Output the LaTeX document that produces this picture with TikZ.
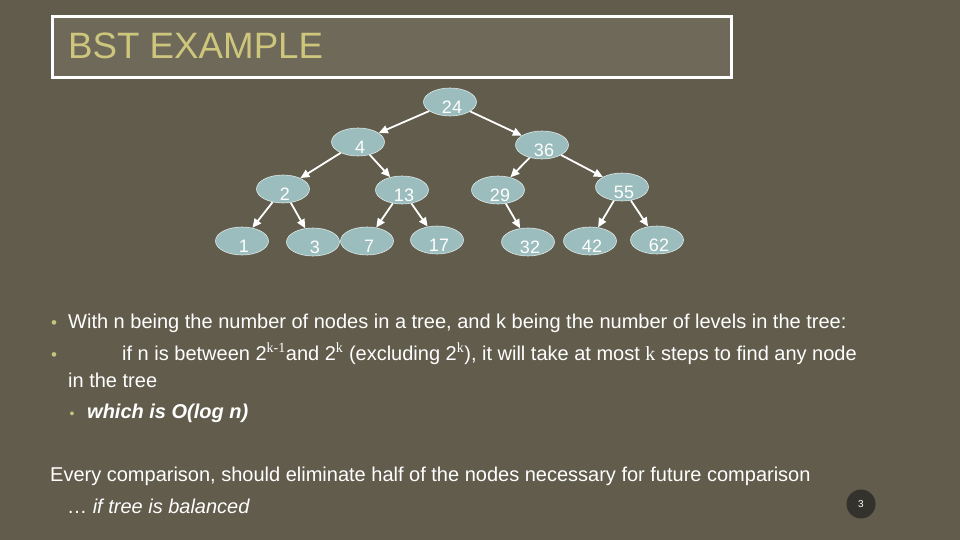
\documentclass[tikz,border=0pt]{standalone}
\usepackage{fontspec}
\setmainfont{Liberation Sans}
\newfontfamily\timesfont{Liberation Serif}
\usetikzlibrary{shapes.geometric, arrows.meta, positioning}
\definecolor{slidebg}{HTML}{615C4C}
\definecolor{titlebg}{HTML}{6E6959}
\definecolor{titletext}{HTML}{CDC67C}
\definecolor{nodefill}{HTML}{9CBDBD}
\definecolor{bulletyellow}{HTML}{C9C37E}
\definecolor{pagecircle}{HTML}{33322D}
\newcommand{\keytext}[1]{\hspace{4pt}\raisebox{-5pt}[13pt][0pt]{#1}}

\begin{document}
\begin{tikzpicture}[
        x=1pt, y=-1pt,
        treenode/.style={
            ellipse,
            fill=nodefill,
            draw=white!65!nodefill,
            line width=0.6pt,
            minimum width=53pt,
            minimum height=28pt,
            inner sep=0pt,
            text=white,
            font=\fontsize{18}{18}\selectfont
        },
        bodytext/.style={
            anchor=base west,
            inner sep=0pt,
            text=white,
            font=\fontsize{20}{24}\selectfont
        },
        bullet/.style={
            anchor=base,
            inner sep=0pt,
            text=bulletyellow,
            font=\fontsize{17}{17}\selectfont
        },
        arrow/.style={-{Triangle[length=9pt, width=8pt]}, line width=1.8pt, draw=white}
    ]

    \fill [slidebg] (0,0) rectangle (960,540);
    \useasboundingbox (0,0) rectangle (960,540);

    \draw [draw=white, line width=3pt, fill=titlebg] (52,17) rectangle (731,78);
    \node (title) [anchor=base west, inner sep=0pt, text=titletext,
        font=\fontsize{36.7}{37}\selectfont] at (68,59) {BST EXAMPLE};

    \node (n24) [treenode] at (450,102) {\keytext{24}};
    \node (n4) [treenode] at (358,142) {\keytext{4}};
    \node (n36) [treenode] at (542,145) {\keytext{36}};
    \node (n2) [treenode] at (283,189) {\keytext{2}};
    \node (n13) [treenode] at (402,190) {\keytext{13}};
    \node (n29) [treenode] at (498,190) {\keytext{29}};
    \node (n55) [treenode] at (622,187) {\keytext{55}};
    \node (n1) [treenode] at (242,241) {\keytext{1}};
    \node (n3) [treenode] at (313,242) {\keytext{3}};
    \node (n7) [treenode] at (367,241) {\keytext{7}};
    \node (n17) [treenode] at (437,240) {\keytext{17}};
    \node (n32) [treenode] at (528,242) {\keytext{32}};
    \node (n42) [treenode] at (590,241) {\keytext{42}};
    \node (n62) [treenode] at (657,240) {\keytext{62}};

    \draw [arrow] (n24) -- (n4);
    \draw [arrow] (n24) -- (n36);
    \draw [arrow] (n4) -- (n2);
    \draw [arrow] (n4) -- (n13);
    \draw [arrow] (n36) -- (n29);
    \draw [arrow] (n36) -- (n55);
    \draw [arrow] (n2) -- (n1);
    \draw [arrow] (n2) -- (n3);
    \draw [arrow] (n13) -- (n7);
    \draw [arrow] (n13) -- (n17);
    \draw [arrow] (n29) -- (n32);
    \draw [arrow] (n55) -- (n42);
    \draw [arrow] (n55) -- (n62);

    \node (b1) [bullet] at (54,328) {•};
    \node (line1) [bodytext] at (68,328) {With n being the number of nodes in a tree, and k being the number of levels in the tree:};
    \node (b2) [bullet] at (54,360) {•};
    \node (line2) [bodytext] at (122,360) {if n is between 2{\timesfont\textsuperscript{k-1}}and 2{\timesfont\textsuperscript{k}} (excluding 2{\timesfont\textsuperscript{k}}), it will take at most {\timesfont k} steps to find any node};
    \node (line3) [bodytext] at (68,387) {in the tree};
    \node (b3) [bullet, font=\fontsize{14}{14}\selectfont] at (72,418) {•};
    \node (line4) [bodytext, font=\fontsize{20}{24}\selectfont\bfseries\itshape] at (87,418) {which is O(log n)};

    \node (line5) [bodytext] at (50,481) {Every comparison, should eliminate half of the nodes necessary for future comparison};
    \node (line6) [bodytext] at (67,513) {… \itshape if tree is balanced};

    \node (pagenum) [circle, fill=pagecircle, minimum size=29pt, inner sep=0pt, text=white,
        font=\fontsize{10}{10}\selectfont] at (861,504) {3};

\end{tikzpicture}
\end{document}
